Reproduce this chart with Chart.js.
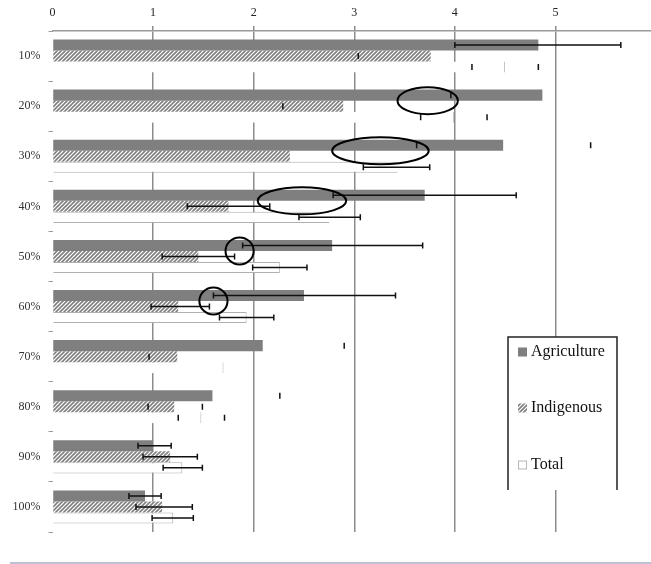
<!DOCTYPE html>
<html>
<head>
<meta charset="utf-8">
<title>Agriculture / Indigenous / Total</title>
<script src="https://cdn.jsdelivr.net/npm/chart.js@4.4.1/dist/chart.umd.min.js"></script>
<style>
  html, body { margin: 0; padding: 0; background: #fff; }
</style>
</head>
<body>
<canvas id="barChart" width="651" height="564"></canvas>
<script>
// categorias (eje vertical) y marcas del eje horizontal
var categorias = ['10%', '20%', '30%', '40%', '50%', '60%', '70%', '80%', '90%', '100%'];
var ticksX = [0, 1, 2, 3, 4, 5];

// valores de las barras
var agriculture = [4.83, 4.87, 4.48, 3.70, 2.78, 2.50, 2.09, 1.59, 1.00, 0.92];
var indigenous  = [3.76, 2.89, 2.36, 1.75, 1.45, 1.25, 1.24, 1.21, 1.17, 1.09];
var total       = [4.50, 3.99, 3.43, 2.75, 2.26, 1.93, 1.70, 1.48, 1.29, 1.20];

// barras de error (extremo inferior / superior, null = no se ve)
var agLo  = [4.00, 3.96, 3.62, 2.79, 1.89, 1.60, null, null, 0.85, 0.76];
var agHi  = [5.65, null, 5.35, 4.61, 3.68, 3.41, 2.90, 2.26, 1.18, 1.08];
var indLo = [3.04, 2.29, null, 1.34, 1.09, 0.98, 0.96, 0.95, 0.90, 0.83];
var indHi = [null, null, null, 2.16, 1.81, 1.56, null, 1.49, 1.44, 1.39];
var totLo = [4.17, 3.66, 3.09, 2.45, 1.99, 1.66, null, 1.25, 1.10, 0.99];
var totHi = [4.83, 4.32, 3.75, 3.06, 2.53, 2.20, null, 1.71, 1.49, 1.40];
// si la linea horizontal de la barra de error se ve (1) o solo los topes (0)
var agLinea  = [1, 0, 0, 1, 1, 1, 0, 0, 1, 1];
var indLinea = [0, 0, 0, 1, 1, 1, 0, 0, 1, 1];
var totLinea = [0, 0, 1, 1, 1, 1, 0, 0, 1, 1];

// elipses marcadas a mano sobre el grafico
var elipseCat = ['20%', '30%', '40%', '50%', '60%'];
var elipseX   = [3.73, 3.26, 2.48, 1.86, 1.60];
var elipseRx  = [0.30, 0.48, 0.44, 0.14, 0.14];

// bordes visibles de las barras "Total" (t=arriba, b=abajo, r=derecha)
var bordesTotal = ['r', 'r', 'tb', 'tb', 'tbr', 'tbr', 'r', 'r', 'tbr', 'tbr'];

var GRIS = '#7f7f7f';
var fuente = 'Liberation Serif';

var ctx = document.getElementById('barChart').getContext('2d');

// trama rayada para Indigenous (fondo blanco para tapar la rejilla)
function crearRayado(color) {
    var c = document.createElement('canvas');
    c.width = 4; c.height = 4;
    var g = c.getContext('2d');
    g.fillStyle = '#fff';
    g.fillRect(0, 0, 4, 4);
    g.strokeStyle = color;
    g.lineWidth = 1.6;
    g.beginPath();
    g.moveTo(0, 4); g.lineTo(4, 0);
    g.moveTo(-1, 1); g.lineTo(1, -1);
    g.moveTo(3, 5); g.lineTo(5, 3);
    g.stroke();
    return ctx.createPattern(c, 'repeat');
}
var rayado = crearRayado(GRIS);

// barras de error
var errorBars = {
    id: 'errorBars',
    afterDatasetsDraw: function(chart) {
        var x = chart.scales.x;
        var series = [[agLo, agHi, agLinea], [indLo, indHi, indLinea], [totLo, totHi, totLinea]];
        var c = chart.ctx;
        c.save();
        c.strokeStyle = '#111';
        c.lineWidth = 1.5;
        series.forEach(function(s, d) {
            var meta = chart.getDatasetMeta(d);
            meta.data.forEach(function(bar, i) {
                var lo = s[0][i], hi = s[1][i];
                var y = bar.y;
                c.beginPath();
                if (s[2][i] && lo !== null && hi !== null) {
                    c.moveTo(x.getPixelForValue(lo), y);
                    c.lineTo(x.getPixelForValue(hi), y);
                }
                [lo, hi].forEach(function(v) {
                    if (v === null) return;
                    var px = x.getPixelForValue(v);
                    c.moveTo(px, y - 3);
                    c.lineTo(px, y + 3);
                });
                c.stroke();
            });
        });
        c.restore();
    }
};

// elipses
var elipses = {
    id: 'elipses',
    afterDatasetsDraw: function(chart) {
        var x = chart.scales.x;
        var c = chart.ctx;
        c.save();
        c.strokeStyle = '#000';
        c.lineWidth = 2;
        elipseCat.forEach(function(cat, k) {
            var i = categorias.indexOf(cat);
            var yA = chart.getDatasetMeta(0).data[i].y;
            var yB = chart.getDatasetMeta(1).data[i].y;
            var cx = x.getPixelForValue(elipseX[k]);
            var rx = x.getPixelForValue(elipseX[k] + elipseRx[k]) - cx;
            c.beginPath();
            c.ellipse(cx, (yA + yB) / 2, rx, 13.5, 0, 0, Math.PI * 2);
            c.stroke();
        });
        c.restore();
    }
};

// leyenda en recuadro + linea inferior
var leyenda = {
    id: 'leyenda',
    afterDraw: function(chart) {
        var c = chart.ctx;
        c.save();
        c.fillStyle = '#fff';
        c.fillRect(508, 337, 109, 153);
        c.strokeStyle = '#222';
        c.lineWidth = 1.5;
        c.beginPath();
        c.moveTo(508, 490); c.lineTo(508, 337); c.lineTo(617, 337); c.lineTo(617, 490);
        c.stroke();

        var ys = [352, 408, 465];
        c.font = '16px "' + fuente + '"';
        c.textBaseline = 'middle';
        chart.data.datasets.forEach(function(ds, d) {
            var y = ys[d];
            if (d === 0) {
                c.fillStyle = GRIS;
                c.fillRect(518, y - 4.5, 9, 9);
            } else if (d === 1) {
                c.fillStyle = rayado;
                c.fillRect(518, y - 4.5, 9, 9);
            } else {
                c.strokeStyle = '#b5b5b5';
                c.lineWidth = 1;
                c.strokeRect(518.5, y - 4, 8, 8);
            }
            c.fillStyle = '#111';
            c.fillText(ds.label, 531, y);
        });

        c.strokeStyle = '#a9a9c6';
        c.lineWidth = 1.5;
        c.beginPath();
        c.moveTo(10, 563); c.lineTo(651, 563);
        c.stroke();
        c.restore();
    }
};

var barChart = new Chart(ctx, {
    type: 'bar',
    data: {
        labels: categorias,
        datasets: [
            {
                label: 'Agriculture',
                data: agriculture,
                backgroundColor: GRIS,
                borderWidth: 0
            },
            {
                label: 'Indigenous',
                data: indigenous,
                backgroundColor: rayado,
                borderWidth: 0
            },
            {
                label: 'Total',
                data: total,
                backgroundColor: '#fff',
                borderColor: '#b0b0b0',
                borderSkipped: false,
                borderWidth: function(c) {
                    var b = bordesTotal[c.dataIndex] || 'tbr';
                    return {
                        left: 0,
                        top: b.indexOf('t') >= 0 ? 1 : 0,
                        bottom: b.indexOf('b') >= 0 ? 1 : 0,
                        right: b.indexOf('r') >= 0 ? 1 : 0
                    };
                }
            }
        ]
    },
    options: {
        indexAxis: 'y',
        responsive: false,
        animation: false,
        devicePixelRatio: 1,
        datasets: {
            bar: { categoryPercentage: 0.66, barPercentage: 1.0 }
        },
        layout: { padding: { top: 0, left: 0, right: 0, bottom: 32 } },
        plugins: {
            legend: { display: false },
            tooltip: { enabled: false }
        },
        scales: {
            x: {
                position: 'top',
                min: 0,
                max: 5.95,
                afterBuildTicks: function(scale) {
                    scale.ticks = ticksX.map(function(v) { return { value: v }; });
                },
                afterFit: function(scale) { scale.height = 31; },
                grid: {
                    color: function(c) { return (c.tick && c.tick.value === 0) ? 'rgba(0,0,0,0)' : '#8c8c8c'; },
                    lineWidth: 1.5,
                    tickLength: 5
                },
                border: { color: '#9a9a9a', width: 1.5 },
                ticks: {
                    color: '#222',
                    padding: 6,
                    font: { family: fuente, size: 12 }
                }
            },
            y: {
                afterFit: function(scale) { scale.width = 52.5; },
                grid: {
                    offset: true,
                    drawOnChartArea: false,
                    tickLength: 4,
                    color: '#9a9a9a',
                    lineWidth: 1
                },
                border: { display: false },
                ticks: {
                    color: '#333',
                    padding: 8,
                    font: { family: fuente, size: 12 }
                }
            }
        }
    },
    plugins: [errorBars, elipses, leyenda]
});
</script>
</body>
</html>
